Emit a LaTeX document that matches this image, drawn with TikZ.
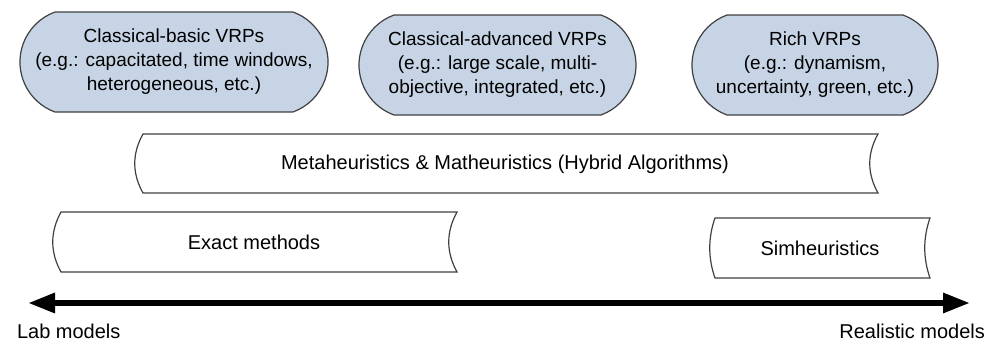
\documentclass[tikz,border=0pt]{standalone}
\usepackage{fontspec}
\setmainfont{Liberation Sans}
\usepackage{xcolor}
\usetikzlibrary{shapes.misc,arrows.meta}
\definecolor{VrpBlue}{RGB}{198,212,229}
\definecolor{LineGray}{RGB}{64,64,64}

\tikzset{
    vrp/.style={rounded rectangle, rounded rectangle arc length=140,
        draw=LineGray, line width=0.6pt, fill=VrpBlue,
        minimum height=50pt, align=center, inner sep=2pt,
        font=\fontsize{9.5}{12}\selectfont},
    tape/.style={draw=LineGray, line width=0.6pt},
    tapetext/.style={font=\fontsize{10}{12}\selectfont},
}

% band with a convex left end and a concave right end
% #1 left x, #2 right x, #3 top y, #4 bottom y, #5 bulge
\newcommand\tapeshape[5]{%
    \draw[tape] (#1,#3) -- (#2,#3)
        .. controls ({#2-#5},{#3+(#4-#3)/3}) and ({#2-#5},{#3+2*(#4-#3)/3}) .. (#2,#4)
        -- (#1,#4)
        .. controls ({#1-#5},{#4-(#4-#3)/3}) and ({#1-#5},{#4-2*(#4-#3)/3}) .. cycle;}

\begin{document}
\begin{tikzpicture}[x=0.5pt,y=-0.5pt]
        \useasboundingbox (0,0) rectangle (992,354);

        % problem classes
        \node[vrp, minimum width=150pt] (basic) at (174,62)
            {Classical-basic VRPs\\(e.g.: capacitated, time windows,\\heterogeneous, etc.)};
        \node[vrp, minimum width=142.5pt] (advanced) at (497.5,65)
            {Classical-advanced VRPs\\(e.g.: large scale, multi-\\objective, integrated, etc.)};
        \node[vrp, minimum width=127pt] (rich) at (815,65)
            {Rich VRPs\\(e.g.: dynamism,\\uncertainty, green, etc.)};

        % solving approaches
        \tapeshape{143}{878}{134}{193}{11}
        \node[tapetext] (meta) at (505,164) {Metaheuristics \& Matheuristics (Hybrid Algorithms)};

        \tapeshape{61}{457}{212}{272}{11}
        \node[tapetext] (exact) at (254,242) {Exact methods};

        \tapeshape{715}{930}{218}{278}{7}
        \node[tapetext] (sim) at (820,248) {Simheuristics};

        % axis
        \coordinate (lab) at (28,303);
        \coordinate (real) at (970,303);
        \draw[line width=3pt, {Triangle[length=13.5pt,width=9.5pt]}-{Triangle[length=13.5pt,width=9.5pt]}] (lab) -- (real);

        \node[tapetext, anchor=west] (labtext) at (10,331) {Lab models};
        \node[tapetext, anchor=east] (realtext) at (992,331) {Realistic models};
    \end{tikzpicture}
\end{document}
